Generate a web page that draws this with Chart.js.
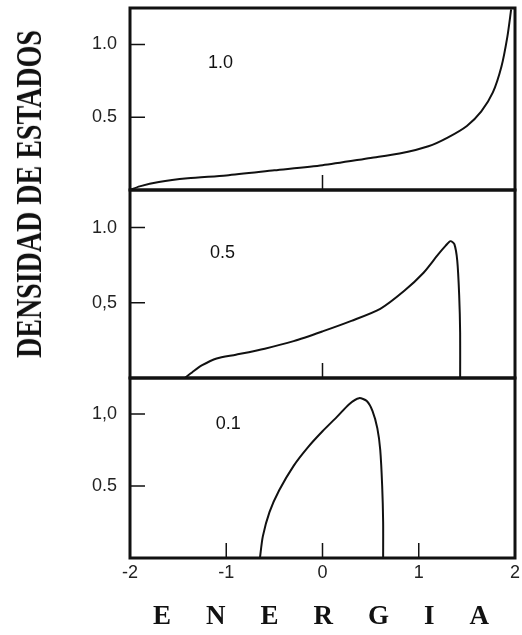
<!DOCTYPE html>
<html>
<head>
<meta charset="utf-8">
<script src="https://cdn.jsdelivr.net/npm/chart.js@4/dist/chart.umd.min.js"></script>
<style>
  body { margin: 0; background: #fff; }
  #wrap { position: relative; width: 522px; height: 635px; }
  #ytitle {
    position: absolute; left: 30px; top: 194px;
    transform: translate(-50%, -50%) rotate(-90deg) scale(1, 1.25);
    font: bold 28px "Liberation Serif", serif; color: #111; white-space: nowrap;
  }
  #xtitle {
    position: absolute; left: 153px; top: 602px;
    font: bold 27px/27px "Liberation Serif", serif; color: #111;
    letter-spacing: 35px; white-space: nowrap;
  }
</style>
</head>
<body>
<div id="wrap">
  <canvas id="dosChart" width="522" height="635"></canvas>
  <div id="ytitle">DENSIDAD DE ESTADOS</div>
  <div id="xtitle">ENERGIA</div>
</div>
<script>
// densidad de estados vs energia, tres paneles (1.0, 0.5, 0.1)
const energy10 = [-2, -1.9, -1.7, -1.4, -1.0, -0.5, 0, 0.5, 0.8, 1.1, 1.3, 1.5, 1.65, 1.77, 1.86, 1.92, 1.96];
const dos10 = [0, 0.025, 0.055, 0.08, 0.10, 0.135, 0.17, 0.22, 0.25, 0.30, 0.36, 0.44, 0.54, 0.67, 0.85, 1.05, 1.24];

const energy05 = [-1.43, -1.35, -1.25, -1.1, -0.9, -0.6, -0.3, 0, 0.3, 0.6, 0.85, 1.05, 1.2, 1.28, 1.33, 1.37, 1.4, 1.42, 1.43, 1.43];
const dos05 = [0, 0.04, 0.085, 0.13, 0.155, 0.195, 0.245, 0.31, 0.38, 0.46, 0.58, 0.70, 0.82, 0.88, 0.91, 0.89, 0.78, 0.55, 0.3, 0];

const energy01 = [-0.65, -0.62, -0.55, -0.45, -0.3, -0.15, 0, 0.15, 0.28, 0.38, 0.46, 0.52, 0.57, 0.6, 0.62, 0.63, 0.63];
const dos01 = [0, 0.15, 0.32, 0.47, 0.64, 0.77, 0.88, 0.98, 1.07, 1.11, 1.09, 1.02, 0.9, 0.75, 0.5, 0.25, 0];

const panelTexts = ["1.0", "0.5", "0.1"];
const xTickValues = [-2, -1, 0, 1, 2];
const yTickValues = [0.5, 1.0];
const yTickLabels = [["0.5", "1.0"], ["0,5", "1.0"], ["0.5", "1,0"]];
const innerXTicks = [[0], [0], [-1, 0, 1]];

const axisIds = ["yTop", "yMid", "yBot"];
const toPoints = (xs, ys) => xs.map((x, i) => ({ x: x, y: ys[i] }));

const tickFont = { family: "Liberation Sans", size: 18 };

function yAxis(panel, weight) {
  return {
    type: "linear",
    position: "left",
    stack: "panels",
    stackWeight: weight,
    min: 0,
    max: 1.25,
    grid: { display: false, drawTicks: false },
    border: { display: false },
    afterBuildTicks: (scale) => {
      scale.ticks = yTickValues.map((v) => ({ value: v }));
    },
    afterFit: (scale) => {
      scale.width = 130;
      scale.paddingTop = 0;
      scale.paddingBottom = 0;
    },
    ticks: {
      padding: 13,
      color: "#222",
      font: tickFont,
      callback: (value) => yTickLabels[panel][yTickValues.indexOf(value)],
    },
  };
}

// frames, inward ticks and panel labels
const framePlugin = {
  id: "frames",
  afterDatasetsDraw(chart, args, opts) {
    const ctx = chart.ctx;
    const area = chart.chartArea;
    const xs = chart.scales.x;
    ctx.save();
    ctx.strokeStyle = "#111";
    ctx.fillStyle = "#111";
    axisIds.forEach((id, p) => {
      const ys = chart.scales[id];
      // inward ticks
      ctx.lineWidth = 1.5;
      ctx.beginPath();
      yTickValues.forEach((v) => {
        const py = ys.getPixelForValue(v);
        ctx.moveTo(area.left, py);
        ctx.lineTo(area.left + 15, py);
      });
      innerXTicks[p].forEach((v) => {
        const px = xs.getPixelForValue(v);
        ctx.moveTo(px, ys.bottom);
        ctx.lineTo(px, ys.bottom - 15);
      });
      ctx.stroke();
      // frame
      ctx.lineWidth = 3;
      ctx.strokeRect(area.left, ys.top, area.right - area.left, ys.bottom - ys.top);
      // panel label
      ctx.font = "18px 'Liberation Sans'";
      ctx.textAlign = "center";
      ctx.textBaseline = "middle";
      ctx.fillText(panelTexts[p], xs.getPixelForValue(opts.labelX[p]), ys.getPixelForValue(opts.labelY[p]));
    });
    ctx.restore();
  },
};

const lineStyle = {
  borderColor: "#111",
  borderWidth: 2,
  pointRadius: 0,
  tension: 0.25,
  fill: false,
};

const ctx = document.getElementById("dosChart").getContext("2d");
const dosChart = new Chart(ctx, {
  type: "line",
  data: {
    datasets: [
      { label: "1.0", data: toPoints(energy10, dos10), yAxisID: "yTop", ...lineStyle },
      { label: "0.5", data: toPoints(energy05, dos05), yAxisID: "yMid", ...lineStyle },
      { label: "0.1", data: toPoints(energy01, dos01), yAxisID: "yBot", ...lineStyle },
    ],
  },
  options: {
    responsive: false,
    animation: false,
    layout: { padding: { left: 0, top: 8, right: 7, bottom: 0 } },
    plugins: {
      legend: { display: false },
      tooltip: { enabled: false },
      frames: { labelX: [-1.06, -1.04, -0.98], labelY: [0.87, 0.83, 0.93] },
    },
    scales: {
      x: {
        type: "linear",
        min: -2,
        max: 2,
        grid: { display: false, drawTicks: false },
        border: { display: false },
        afterBuildTicks: (scale) => {
          scale.ticks = xTickValues.map((v) => ({ value: v }));
        },
        afterFit: (scale) => {
          scale.height = 77;
          scale.paddingLeft = 0;
          scale.paddingRight = 0;
        },
        ticks: {
          padding: 4,
          color: "#222",
          font: tickFont,
          callback: (value) => String(value),
        },
      },
      // stacked axes are placed bottom-up, so the bottom panel comes first
      yBot: yAxis(2, 1.8),
      yMid: yAxis(1, 1.88),
      yTop: yAxis(0, 1.82),
    },
  },
  plugins: [framePlugin],
});
</script>
</body>
</html>
